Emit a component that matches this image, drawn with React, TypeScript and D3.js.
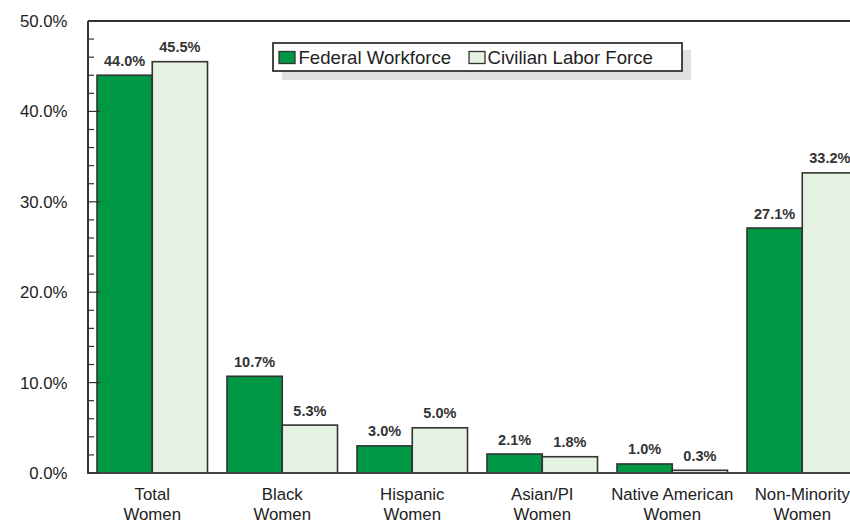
import React from "react";
import * as d3 from "d3";

const categories = ["Total|Women", "Black|Women", "Hispanic|Women", "Asian/PI|Women", "Native American|Women", "Non-Minority|Women"];
const seriesNames = ["Federal Workforce", "Civilian Labor Force"];
const federal = [44.0, 10.7, 3.0, 2.1, 1.0, 27.1];
const civilian = [45.5, 5.3, 5.0, 1.8, 0.3, 33.2];
const yTicks = [0, 10, 20, 30, 40, 50];
const minorTicks = d3.range(0, 50, 2);

const colors = ["#009845", "#e6f2e1"];
const font = "'Liberation Sans', Arial, Helvetica, sans-serif";

export default function App() {
  const W = 850, H = 520;
  const left = 88, top = 21, bottom = 473;
  const y = d3.scaleLinear().domain([0, 50]).range([bottom, top]);
  const x = d3.scaleBand<string>().domain(categories).range([87.25, 867.25]).paddingInner(0.15).paddingOuter(0.075);
  const x1 = d3.scaleBand<number>().domain([0, 1]).range([0, x.bandwidth()]);
  const series = [federal, civilian];

  return (
    <svg width={W} height={H} style={{ position: "absolute", left: 0, top: 0, fontFamily: font }}>
      <rect width={W} height={H} fill="#fff" />
      {/* bars */}
      {categories.map((c, i) => (
        <g key={c} transform={`translate(${x(c)},0)`}>
          {series.map((s, k) => (
            <g key={k}>
              <rect x={x1(k)} y={y(s[i])} width={x1.bandwidth()} height={bottom - y(s[i])} fill={colors[k]} stroke="#333" strokeWidth={1.6} />
              <text x={(x1(k) as number) + x1.bandwidth() / 2} y={y(s[i]) - 9.5} textAnchor="middle" fontSize={14.5} fontWeight="bold" fill="#333">
                {s[i].toFixed(1)}%
              </text>
            </g>
          ))}
        </g>
      ))}
      {/* axes */}
      <line x1={left} x2={W} y1={top} y2={top} stroke="#333" strokeWidth={2} />
      <line x1={left} x2={left} y1={top} y2={bottom} stroke="#333" strokeWidth={2} />
      <line x1={left - 1} x2={W} y1={bottom} y2={bottom} stroke="#444" strokeWidth={2} />
      {minorTicks.map((t) => (
        <line key={"m" + t} x1={left} x2={left + (t % 10 === 0 ? 12 : 6)} y1={y(t)} y2={y(t)} stroke="#333" strokeWidth={1.2} />
      ))}
      {yTicks.map((t) => (
        <text key={t} x={67.5} y={y(t) + 6} textAnchor="end" fontSize={16.8} fill="#222">
          {t.toFixed(1)}%
        </text>
      ))}
      {categories.map((c) => (
        <text key={"l" + c} textAnchor="middle" fontSize={16.8} fill="#222">
          {c.split("|").map((ln, j) => (
            <tspan key={j} x={(x(c) as number) + x.bandwidth() / 2} y={500 + j * 19.5}>
              {ln}
            </tspan>
          ))}
        </text>
      ))}
      {/* legend */}
      <rect x={282} y={50} width={409} height={30} fill="#e0e0e2" />
      <rect x={273} y={43} width={409} height={28} fill="#fff" stroke="#333" strokeWidth={1.8} />
      <rect x={279} y={51.5} width={16} height={12} fill={colors[0]} stroke="#333" strokeWidth={1.3} />
      <text x={298.5} y={63.5} fontSize={18.6} fill="#222">{seriesNames[0]}</text>
      <rect x={469} y={51.5} width={16} height={12} fill={colors[1]} stroke="#333" strokeWidth={1.3} />
      <text x={487.5} y={63.5} fontSize={18.6} fill="#222">{seriesNames[1]}</text>
    </svg>
  );
}
